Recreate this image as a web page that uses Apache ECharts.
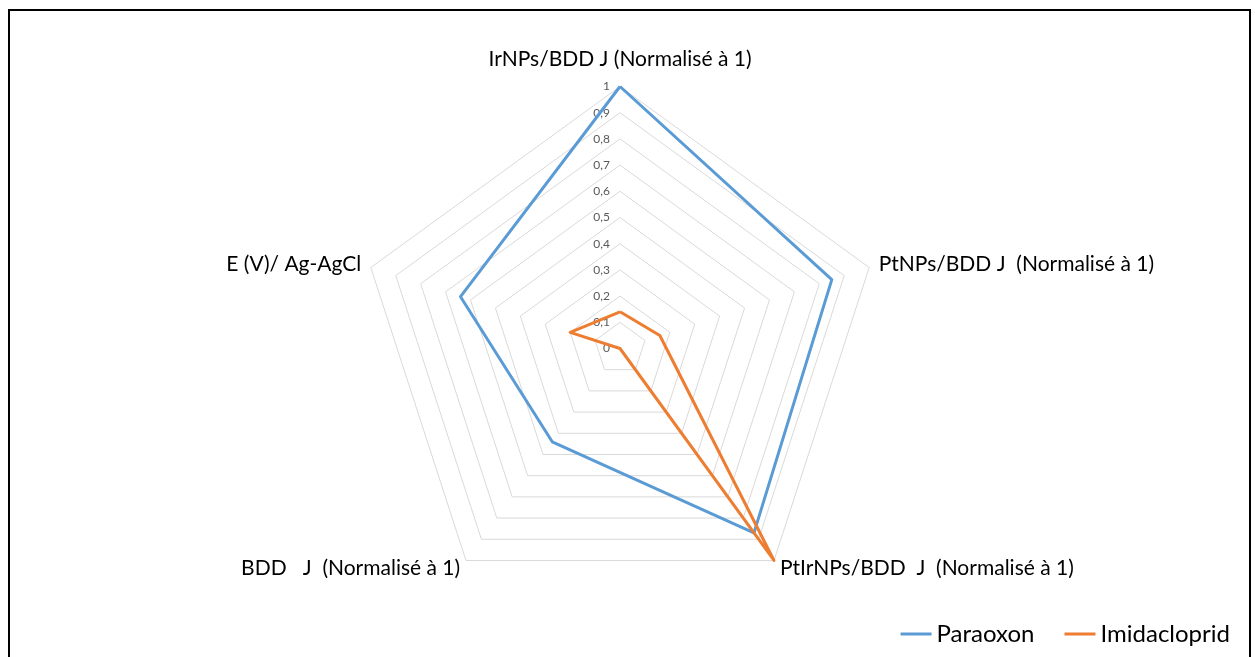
<!DOCTYPE html>
<html>
<head>
<meta charset="utf-8">
<script src="https://cdn.jsdelivr.net/npm/echarts@6/dist/echarts.min.js"></script>
<style>
html,body{margin:0;padding:0;background:#fff;}
#wrap{position:relative;width:1255px;height:657px;overflow:hidden;}
#frame{position:absolute;left:8px;top:9px;width:1243px;height:700px;border-left:2px solid #000;border-top:2px solid #000;border-right:2px solid #000;box-sizing:border-box;}
#chart{position:absolute;left:0;top:0;width:1255px;height:657px;}
</style>
</head>
<body>
<div id="wrap"><div id="frame"></div><div id="chart"></div></div>
<script>
const indicators = [
  'IrNPs/BDD J (Normalisé à 1)',
  'PtNPs/BDD J  (Normalisé à 1)',
  'PtIrNPs/BDD  J  (Normalisé à 1)',
  'BDD   J  (Normalisé à 1)',
  'E (V)/ Ag-AgCl'
];
const seriesNames = ['Paraoxon', 'Imidacloprid'];
const paraoxon = [1.0, 0.85, 0.87, 0.44, 0.64];
const imidacloprid = [0.14, 0.16, 1.0, 0.0, 0.20];
const colors = ['#5B9BD5', '#ED7D31'];

// ECharts radar runs counter-clockwise; reorder so the chart reads clockwise
const order = [0, 4, 3, 2, 1];
const reorder = arr => order.map(i => arr[i]);

const font = 'Lato, "Open Sans", sans-serif';
const chart = echarts.init(document.getElementById('chart'));
const indicatorOpts = order.map((idx, k) => {
  const o = { name: indicators[idx], min: 0, max: 1 };
  if (k === 0) {
    o.axisLabel = {
      show: true, fontSize: 12, color: '#595959', fontFamily: font, margin: 10,
      formatter: v => (v === 0 ? '0' : v === 1 ? '1' : v.toFixed(1).replace('.', ','))
    };
    o.nameGap = 17;
  }
  return o;
});
chart.setOption({
  animation: false,
  color: colors,
  legend: {
    right: 20, top: 617,
    itemWidth: 31, itemHeight: 3, itemGap: 30,
    icon: 'rect',
    textStyle: { fontSize: 24, color: '#000', fontFamily: font },
    data: seriesNames
  },
  radar: {
    center: [620, 348.5],
    radius: 262,
    startAngle: 90,
    shape: 'polygon',
    splitNumber: 10,
    nameGap: 10,
    axisName: { color: '#000', fontSize: 21, fontFamily: font },
    axisLine: { show: false },
    axisTick: { show: false },
    axisLabel: { show: false },
    splitArea: { show: false },
    splitLine: { lineStyle: { color: '#d9d9d9', width: 1 } },
    indicator: indicatorOpts
  },
  series: [{
    type: 'radar',
    symbol: 'none',
    data: [
      { name: seriesNames[0], value: reorder(paraoxon), lineStyle: { color: colors[0], width: 3 }, itemStyle: { color: colors[0] } },
      { name: seriesNames[1], value: reorder(imidacloprid), lineStyle: { color: colors[1], width: 3 }, itemStyle: { color: colors[1] } }
    ]
  }]
});
</script>
</body>
</html>
